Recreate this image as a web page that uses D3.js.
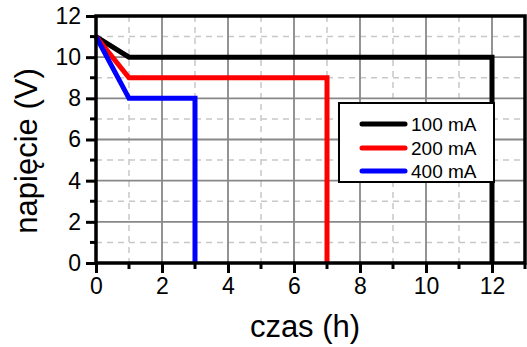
<!DOCTYPE html>
<html><head><meta charset="utf-8">
<script src="https://cdn.jsdelivr.net/npm/d3@7/dist/d3.min.js"></script>
<style>body{margin:0;background:#fff}svg{display:block}text{font-family:"Liberation Sans",Arial,sans-serif}</style>
</head><body>
<svg id="c" width="527" height="347"></svg>
<script>
const seriesNames = ["100 mA", "200 mA", "400 mA"];
const seriesColors = ["#000000", "#ff0000", "#0000ff"];
const timeH100 = [0, 1, 12, 12];
const volt100 = [11, 10, 10, 0];
const timeH200 = [0, 1, 7, 7];
const volt200 = [11, 9, 9, 0];
const timeH400 = [0, 1, 3, 3];
const volt400 = [11, 8, 8, 0];
const xTicks = [0, 2, 4, 6, 8, 10, 12];
const yTicks = [0, 2, 4, 6, 8, 10, 12];
const xMinor = [1, 3, 5, 7, 9, 11, 13];
const yMinor = [1, 3, 5, 7, 9, 11];

const svg = d3.select("#c");
const L = 96, R = 525, T = 16, B = 263;
const x = d3.scaleLinear().domain([0, 13]).range([L, R]);
const y = d3.scaleLinear().domain([0, 12]).range([B, T]);

// grid
const g = svg.append("g");
g.selectAll(".mvx").data(xMinor.filter(d => d < 13)).join("line")
  .attr("x1", d => x(d)).attr("x2", d => x(d)).attr("y1", T).attr("y2", B)
  .attr("stroke", "#c8c8c8").attr("stroke-width", 1.5).attr("stroke-dasharray", "6,5");
g.selectAll(".mhy").data(yMinor).join("line")
  .attr("y1", d => y(d)).attr("y2", d => y(d)).attr("x1", L).attr("x2", R)
  .attr("stroke", "#c8c8c8").attr("stroke-width", 1.5).attr("stroke-dasharray", "6,5");
g.selectAll(".Mvx").data(xTicks.filter(d => d > 0)).join("line")
  .attr("x1", d => x(d)).attr("x2", d => x(d)).attr("y1", T).attr("y2", B)
  .attr("stroke", "#888").attr("stroke-width", 1.8);
g.selectAll(".Mhy").data(yTicks.filter(d => d > 0 && d < 12)).join("line")
  .attr("y1", d => y(d)).attr("y2", d => y(d)).attr("x1", L).attr("x2", R)
  .attr("stroke", "#888").attr("stroke-width", 1.8);

// series
const series = [
  { t: timeH100, v: volt100 },
  { t: timeH200, v: volt200 },
  { t: timeH400, v: volt400 }
];
const line = d3.line().x(d => x(d[0])).y(d => y(d[1]));
series.forEach((s, i) => {
  svg.append("path").attr("d", line(s.t.map((t, j) => [t, s.v[j]])))
    .attr("fill", "none").attr("stroke", seriesColors[i]).attr("stroke-width", 5)
    .attr("stroke-linejoin", "miter").attr("stroke-linecap", "butt");
});

// axes
const xAxis = d3.axisBottom(x).tickValues(xTicks).tickSize(10).tickPadding(5).tickFormat(d3.format("d"));
const xa = svg.append("g").attr("transform", `translate(0,${B})`).call(xAxis);
const yAxis = d3.axisLeft(y).tickValues(yTicks).tickSize(10).tickPadding(5).tickFormat(d3.format("d"));
const ya = svg.append("g").attr("transform", `translate(${L},0)`).call(yAxis);
[xa, ya].forEach(a => {
  a.select(".domain").remove();
  a.selectAll(".tick line").attr("stroke", "#000").attr("stroke-width", 3);
  a.selectAll(".tick text").attr("font-size", 23).attr("fill", "#000");
});
svg.append("g").selectAll("line").data(xMinor).join("line")
  .attr("x1", d => x(d)).attr("x2", d => x(d)).attr("y1", B).attr("y2", B + 6)
  .attr("stroke", "#000").attr("stroke-width", 3);
svg.append("g").selectAll("line").data(yMinor).join("line")
  .attr("y1", d => y(d)).attr("y2", d => y(d)).attr("x1", L - 6).attr("x2", L)
  .attr("stroke", "#000").attr("stroke-width", 3);

// frame
svg.append("rect").attr("x", L).attr("y", T).attr("width", R - L).attr("height", B - T)
  .attr("fill", "none").attr("stroke", "#000").attr("stroke-width", 3.5);

// axis titles
svg.append("text").attr("x", 305).attr("y", 337).attr("text-anchor", "middle")
  .attr("font-size", 31).text("czas (h)");
svg.append("text").attr("transform", "translate(37,151) rotate(-90)").attr("text-anchor", "middle")
  .attr("font-size", 31).text("napięcie (V)");

// legend
const lg = svg.append("g");
lg.append("rect").attr("x", 339).attr("y", 103).attr("width", 155).attr("height", 79)
  .attr("fill", "#fff").attr("stroke", "#000").attr("stroke-width", 2);
const ly = [124, 148, 171];
seriesNames.forEach((n, i) => {
  lg.append("line").attr("x1", 362).attr("x2", 405).attr("y1", ly[i]).attr("y2", ly[i])
    .attr("stroke", seriesColors[i]).attr("stroke-width", 5).attr("stroke-linecap", "round");
  lg.append("text").attr("x", 411).attr("y", ly[i] + 7).attr("font-size", 19).text(n);
});
</script>
</body></html>
